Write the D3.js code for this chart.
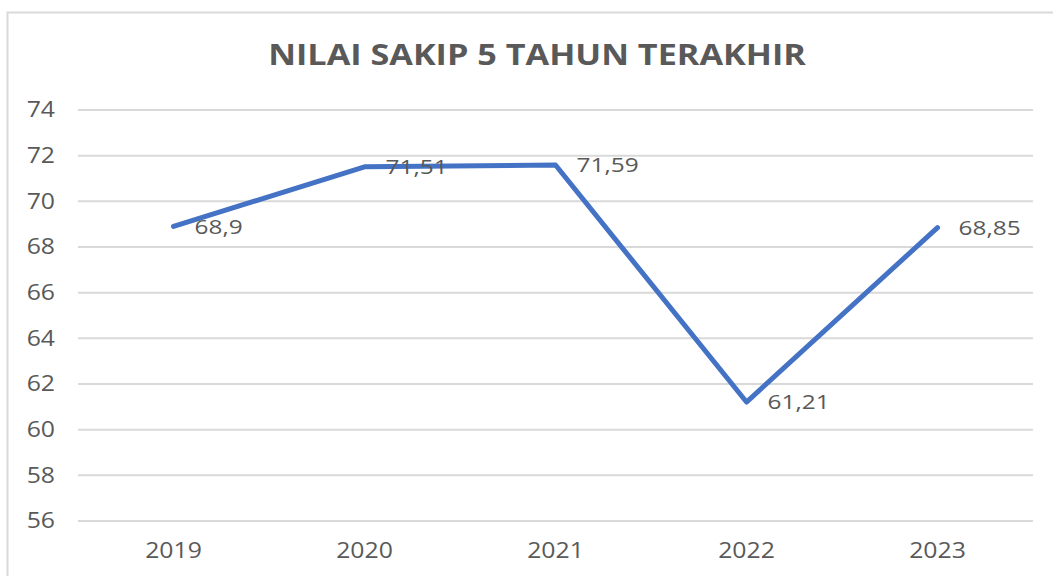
<!DOCTYPE html>
<html>
<head>
<meta charset="utf-8">
<script src="https://cdn.jsdelivr.net/npm/d3@7"></script>
<style>
  body { margin: 0; background: #fff; }
  svg { display: block; font-family: 'Open Sans', 'Noto Sans', sans-serif; }
</style>
</head>
<body>
<svg id="chart" width="1053" height="576"></svg>
<script>
const years = ['2019', '2020', '2021', '2022', '2023']
const scores = [68.9, 71.51, 71.59, 61.21, 68.85]
const scoreLabels = ['68,9', '71,51', '71,59', '61,21', '68,85']
const yTicks = [56, 58, 60, 62, 64, 66, 68, 70, 72, 74]

const margin = { top: 110, left: 78, right: 1033, bottom: 521 }
const textColor = '#595959'
const lineColor = '#4472C4'
const stretch = 1.18 // the source picture is a bit wider than tall

let svg = d3.select('#chart')

// outer frame of the chart area
svg.append('rect')
  .attr('x', 7.5)
  .attr('y', 12.5)
  .attr('width', 1060)
  .attr('height', 580)
  .style('fill', 'none')
  .style('stroke', '#d9d9d9')
  .style('stroke-width', 2)

svg.append('text')
  .attr('transform', `translate(537,57) scale(${stretch},1)`)
  .attr('text-anchor', 'middle')
  .attr('dominant-baseline', 'middle')
  .style('font-size', '29px')
  .style('font-weight', 'bold')
  .style('fill', textColor)
  .text('NILAI SAKIP 5 TAHUN TERAKHIR')

let xScale = d3.scaleBand()
  .domain(years)
  .range([margin.left, margin.right])

let yScale = d3.scaleLinear()
  .domain([56, 74])
  .range([margin.bottom, margin.top])

// gridlines
svg.append('g')
  .selectAll('line')
  .data(yTicks)
  .enter()
  .append('line')
  .attr('x1', margin.left)
  .attr('x2', margin.right)
  .attr('y1', d => yScale(d))
  .attr('y2', d => yScale(d))
  .style('stroke', '#d9d9d9')
  .style('stroke-width', 2)

let yAxis = svg.append('g')
  .attr('transform', 'translate(55,0)')
  .call(d3.axisLeft(yScale).tickValues(yTicks).tickSize(0).tickPadding(0))
yAxis.select('.domain').remove()
yAxis.selectAll('text')
  .attr('transform', `scale(${stretch},1)`)
  .style('font-size', '21px')
  .style('font-family', "'Open Sans', 'Noto Sans', sans-serif")
  .style('fill', textColor)

let xAxis = svg.append('g')
  .attr('transform', 'translate(0,543)')
  .call(d3.axisBottom(xScale).tickSize(0).tickPadding(0))
xAxis.select('.domain').remove()
xAxis.selectAll('text')
  .attr('transform', `scale(${stretch},1)`)
  .style('font-size', '21px')
  .style('font-family', "'Open Sans', 'Noto Sans', sans-serif")
  .style('fill', textColor)

let data = years.map((y, i) => ({ 'year': y, 'value': scores[i], 'label': scoreLabels[i] }))

let line = d3.line()
  .x(d => xScale(d.year) + xScale.bandwidth() / 2)
  .y(d => yScale(d.value))

svg.append('path')
  .datum(data)
  .attr('d', line)
  .style('fill', 'none')
  .style('stroke', lineColor)
  .style('stroke-width', 5)
  .style('stroke-linejoin', 'round')
  .style('stroke-linecap', 'round')

// data labels, to the right of each point
svg.append('g')
  .selectAll('text')
  .data(data)
  .enter()
  .append('text')
  .attr('transform', d => `translate(${xScale(d.year) + xScale.bandwidth() / 2 + 21},${yScale(d.value) + 2}) scale(1.22,1)`)
  .attr('dominant-baseline', 'middle')
  .style('font-size', '20px')
  .style('fill', textColor)
  .text(d => d.label)
</script>
</body>
</html>
